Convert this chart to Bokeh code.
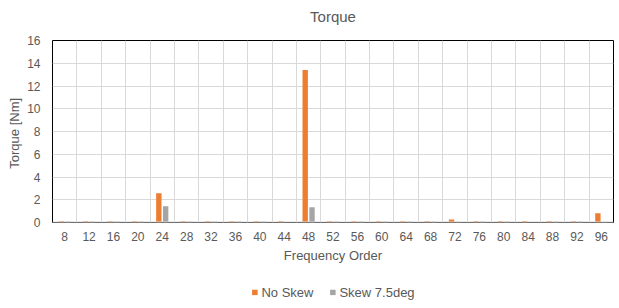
from bokeh.plotting import figure
from bokeh.layouts import column
from bokeh.models import ColumnDataSource, Range1d, FixedTicker, Legend, LegendItem, Span, Label
from bokeh.transform import dodge
from bokeh.embed import file_html
from bokeh.resources import INLINE

chart_title = "Torque"
orders = [8, 12, 16, 20, 24, 28, 32, 36, 40, 44, 48, 52, 56, 60, 64, 68, 72, 76, 80, 84, 88, 92, 96]
no_skew = [0.1, 0.1, 0.1, 0.1, 2.58, 0.1, 0.1, 0.1, 0.1, 0.1, 13.4, 0.1, 0.1, 0.1, 0.1, 0.1, 0.27, 0.1, 0.1, 0.1, 0.1, 0.1, 0.82]
skew_75 = [0.08, 0.08, 0.08, 0.08, 1.43, 0.08, 0.08, 0.08, 0.08, 0.0, 1.35, 0.08, 0.08, 0.08, 0.08, 0.08, 0.07, 0.08, 0.08, 0.0, 0.08, 0.08, 0.07]
y_ticks = [0, 2, 4, 6, 8, 10, 12, 14, 16]
series_names = ["No Skew", "Skew 7.5deg"]
series_colors = ["#ed7d31", "#a5a5a5"]

TXT = "#595959"
FONT = "Liberation Sans"

centers = [i + 0.5 for i in range(len(orders))]
src = ColumnDataSource(dict(x=centers, a=no_skew, b=skew_75))

# title strip
t = figure(width=619, height=28, output_backend="svg", toolbar_location=None,
           x_range=Range1d(0, 1), y_range=Range1d(0, 1),
           min_border=0, x_axis_type=None, y_axis_type=None)
t.grid.visible = False
t.outline_line_color = None
t.add_layout(Label(x=0.5, y=0.43, text=chart_title, text_align="center", text_baseline="middle",
                   text_font=FONT, text_font_size="15px", text_color=TXT))

p = figure(width=619, height=248, output_backend="svg", toolbar_location=None,
           x_range=Range1d(0, len(orders)), y_range=Range1d(0, 16),
           min_border_left=52, min_border_right=6, min_border_top=12, min_border_bottom=54)

p.vbar(x=dodge("x", -0.14, range=p.x_range), top="a", width=0.22, source=src,
       fill_color=series_colors[0], line_color=None)
p.vbar(x=dodge("x", 0.14, range=p.x_range), top="b", width=0.22, source=src,
       fill_color=series_colors[1], line_color=None)

p.xaxis.ticker = FixedTicker(ticks=centers)
p.xaxis.major_label_overrides = {c: str(o) for c, o in zip(centers, orders)}
p.yaxis.ticker = FixedTicker(ticks=y_ticks)
p.xgrid.ticker = FixedTicker(ticks=list(range(len(orders) + 1)))
p.ygrid.ticker = FixedTicker(ticks=y_ticks)
for g in (p.xgrid, p.ygrid):
    g.grid_line_color = "#d9d9d9"
    g.grid_line_width = 1

for ax in (p.xaxis, p.yaxis):
    ax.major_tick_line_color = None
    ax.minor_tick_line_color = None
    ax.major_tick_out = 0
    ax.major_tick_in = 0
    ax.minor_tick_out = 0
    ax.minor_tick_in = 0
    ax.axis_line_color = None
    ax.major_label_text_font = FONT
    ax.major_label_text_font_size = "12px"
    ax.major_label_text_color = TXT
    ax.axis_label_text_font = FONT
    ax.axis_label_text_font_size = "13px"
    ax.axis_label_text_font_style = "normal"
    ax.axis_label_text_color = TXT
p.xaxis.axis_label = "Frequency Order"
p.yaxis.axis_label = "Torque  [Nm]"
p.xaxis.major_label_standoff = 9
p.yaxis.major_label_standoff = 12
p.xaxis.axis_label_standoff = 4
p.yaxis.axis_label_standoff = 2

p.outline_line_color = "black"
p.outline_line_width = 1
p.add_layout(Span(location=0, dimension="width", line_color="#d9d9d9", line_width=2))

# legend strip (the series' bars lie outside this strip's view; only the key is shown)
q = figure(width=619, height=32, output_backend="svg", toolbar_location=None,
           x_range=Range1d(40, 41), y_range=Range1d(40, 41),
           min_border=0, x_axis_type=None, y_axis_type=None)
q.grid.visible = False
q.outline_line_color = None
k1 = q.vbar(x="x", top="a", width=0.22, source=src, fill_color=series_colors[0], line_color=None)
k2 = q.vbar(x="x", top="b", width=0.22, source=src, fill_color=series_colors[1], line_color=None)
legend = Legend(items=[LegendItem(label=series_names[0], renderers=[k1]),
                       LegendItem(label=series_names[1], renderers=[k2])],
                orientation="horizontal", location="center",
                label_text_font=FONT, label_text_font_size="13px", label_text_color=TXT,
                glyph_width=7, glyph_height=7, spacing=15, label_standoff=4,
                border_line_color=None, background_fill_alpha=0, margin=0, padding=2)
q.add_layout(legend, "center")

open("out.html", "w").write(file_html(column(t, p, q, spacing=0), INLINE))
